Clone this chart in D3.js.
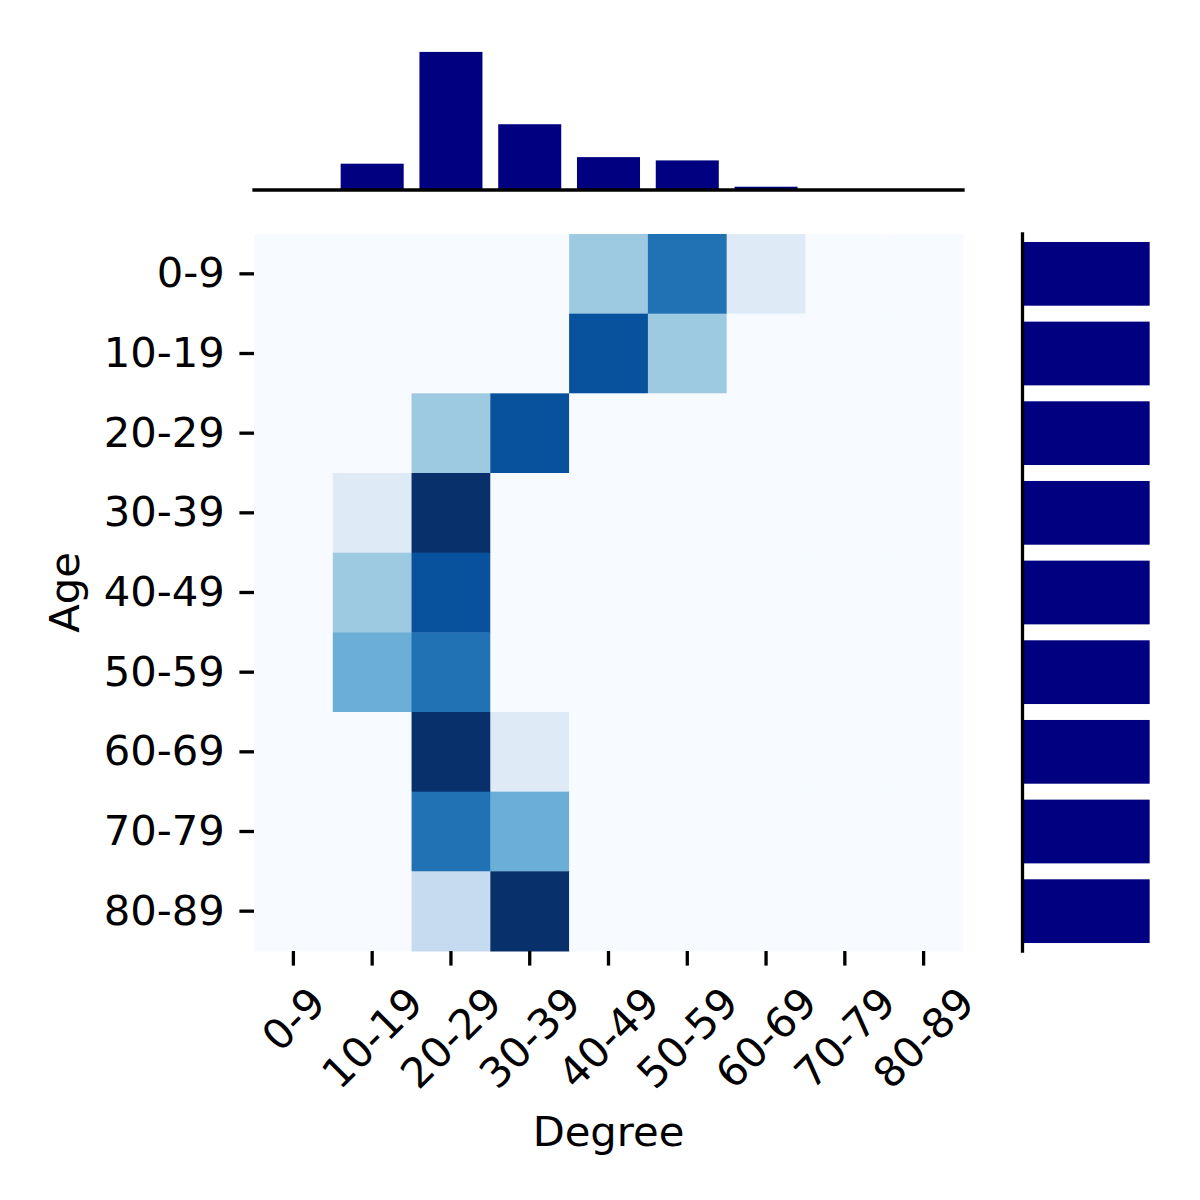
<!DOCTYPE html>
<html>
<head>
<meta charset="utf-8">
<script src="https://cdn.jsdelivr.net/npm/d3@7"></script>
<style>
  body { margin: 0; background: #fff; }
  svg text { font-family: "DejaVu Sans", sans-serif; fill: #000; }
</style>
</head>
<body>
<svg id="chart" width="1200" height="1200"></svg>
<script>
// age rows (top to bottom) and degree columns (left to right)
const ageLabels = ["0-9", "10-19", "20-29", "30-39", "40-49", "50-59", "60-69", "70-79", "80-89"];
const degreeLabels = ["0-9", "10-19", "20-29", "30-39", "40-49", "50-59", "60-69", "70-79", "80-89"];

// counts per age row, one value per degree column
const counts = [
  [0, 0, 0, 0, 3, 6, 1, 0, 0],
  [0, 0, 0, 0, 7, 3, 0, 0, 0],
  [0, 0, 3, 7, 0, 0, 0, 0, 0],
  [0, 1, 9, 0, 0, 0, 0, 0, 0],
  [0, 3, 7, 0, 0, 0, 0, 0, 0],
  [0, 4, 6, 0, 0, 0, 0, 0, 0],
  [0, 0, 9, 1, 0, 0, 0, 0, 0],
  [0, 0, 6, 4, 0, 0, 0, 0, 0],
  [0, 0, 2, 8, 0, 0, 0, 0, 0],
];

const blues = ["#f7fbff", "#deebf7", "#c6dbef", "#9ecae1", "#6baed6", "#4292c6", "#2171b5", "#08519c", "#08306b"];
const colorMax = 8;

const fontSize = 41.7;
const tickLen = 14.6;
const tickPad = 14.6;
const barColor = "#000080";

const heat = { left: 254, right: 963, top: 234, bottom: 951 };
const topHist = { top: 45, bottom: 190 };
const rightHist = { left: 1022.5, right: 1156 };

const svg = d3.select("#chart");

const x = d3.scaleBand().domain(degreeLabels).range([heat.left, heat.right]).padding(0);
const y = d3.scaleBand().domain(ageLabels).range([heat.top, heat.bottom]).padding(0);

const color = d3
  .scaleLinear()
  .domain(blues.map((_, i) => (i * colorMax) / (blues.length - 1)))
  .range(blues)
  .interpolate(d3.interpolateRgb)
  .clamp(true);

// flatten for cells
const cells = [];
counts.forEach((row, r) => {
  row.forEach((v, c) => cells.push({ age: ageLabels[r], degree: degreeLabels[c], value: v }));
});

svg
  .append("g")
  .selectAll("rect")
  .data(cells)
  .join("rect")
  .attr("x", (d) => x(d.degree))
  .attr("y", (d) => y(d.age))
  .attr("width", x.bandwidth() + 0.5)
  .attr("height", y.bandwidth() + 0.5)
  .attr("fill", (d) => color(d.value));

// marginal sums
const colTotals = degreeLabels.map((_, c) => d3.sum(counts, (row) => row[c]));
const rowTotals = counts.map((row) => d3.sum(row));

// top histogram
const xBar = d3.scaleBand().domain(degreeLabels).range([heat.left, heat.right]).paddingInner(0.2).paddingOuter(0.1);
const yTop = d3
  .scaleLinear()
  .domain([0, d3.max(colTotals) * 1.05])
  .range([topHist.bottom, topHist.top]);

svg
  .append("g")
  .selectAll("rect")
  .data(colTotals)
  .join("rect")
  .attr("x", (d, i) => xBar(degreeLabels[i]))
  .attr("y", (d) => yTop(d))
  .attr("width", xBar.bandwidth())
  .attr("height", (d) => yTop(0) - yTop(d))
  .attr("fill", barColor);

svg
  .append("line")
  .attr("x1", heat.left)
  .attr("x2", heat.right)
  .attr("y1", topHist.bottom)
  .attr("y2", topHist.bottom)
  .attr("stroke", "#000")
  .attr("stroke-width", 3.3)
  .attr("stroke-linecap", "square");

// right histogram
const yBar = d3.scaleBand().domain(ageLabels).range([heat.top, heat.bottom]).paddingInner(0.2).paddingOuter(0.1);
const xRight = d3
  .scaleLinear()
  .domain([0, d3.max(rowTotals) * 1.05])
  .range([rightHist.left, rightHist.right]);

svg
  .append("g")
  .selectAll("rect")
  .data(rowTotals)
  .join("rect")
  .attr("x", xRight(0))
  .attr("y", (d, i) => yBar(ageLabels[i]))
  .attr("width", (d) => xRight(d) - xRight(0))
  .attr("height", yBar.bandwidth())
  .attr("fill", barColor);

svg
  .append("line")
  .attr("x1", rightHist.left)
  .attr("x2", rightHist.left)
  .attr("y1", heat.top)
  .attr("y2", heat.bottom)
  .attr("stroke", "#000")
  .attr("stroke-width", 3.3)
  .attr("stroke-linecap", "square");

// y axis (ages)
const yAxis = svg
  .append("g")
  .attr("transform", `translate(${heat.left},0)`)
  .call(d3.axisLeft(y).tickSize(tickLen).tickPadding(tickPad).tickSizeOuter(0));
yAxis.select(".domain").remove();
yAxis.selectAll(".tick line").attr("stroke", "#000").attr("stroke-width", 3.3);
yAxis.selectAll(".tick text").attr("font-size", fontSize).attr("font-family", "DejaVu Sans").attr("fill", "#000");

// x axis (degrees), labels rotated 45 degrees, centred under the tick
const xAxis = svg
  .append("g")
  .attr("transform", `translate(0,${heat.bottom})`)
  .call(d3.axisBottom(x).tickSize(tickLen).tickPadding(tickPad).tickSizeOuter(0));
xAxis.select(".domain").remove();
xAxis.selectAll(".tick line").attr("stroke", "#000").attr("stroke-width", 3.3);
xAxis
  .selectAll(".tick text")
  .attr("font-size", fontSize)
  .attr("font-family", "DejaVu Sans")
  .attr("fill", "#000")
  .attr("text-anchor", "middle")
  .attr("y", 0)
  .attr("dy", "0.35em")
  .attr("transform", function () {
    const w = this.getComputedTextLength();
    const h = fontSize * 1.0;
    const off = tickLen + tickPad + (w + h) / (2 * Math.SQRT2);
    return `translate(0,${off}) rotate(-45)`;
  });

// axis titles
svg
  .append("text")
  .attr("x", (heat.left + heat.right) / 2)
  .attr("y", 1146)
  .attr("text-anchor", "middle")
  .attr("font-size", fontSize)
  .text("Degree");

svg
  .append("text")
  .attr("transform", `translate(79,${(heat.top + heat.bottom) / 2}) rotate(-90)`)
  .attr("text-anchor", "middle")
  .attr("font-size", fontSize)
  .text("Age");
</script>
</body>
</html>
